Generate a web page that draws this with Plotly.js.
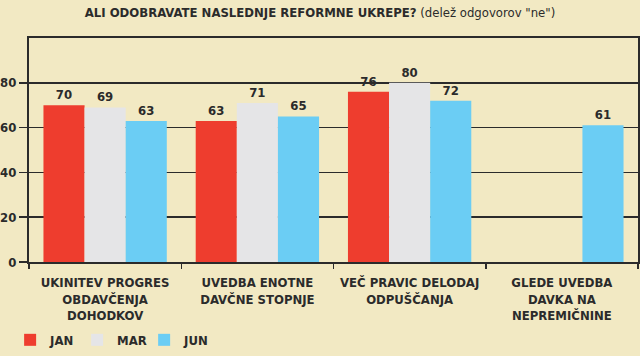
<!DOCTYPE html>
<html>
<head>
<meta charset="utf-8">
<script src="https://cdn.plot.ly/plotly-3.0.1.min.js"></script>
<style>html,body{margin:0;padding:0;background:#F2E9C3;}#chart{width:640px;height:356px;}</style>
</head>
<body>
<div id="chart"></div>
<script>
const categories = [
  "UKINITEV PROGRES<br>OBDAVČENJA<br>DOHODKOV",
  "UVEDBA ENOTNE<br>DAVČNE STOPNJE",
  "VEČ PRAVIC DELODAJ<br>ODPUŠČANJA",
  "GLEDE UVEDBA<br>DAVKA NA<br>NEPREMIČNINE"
];
const seriesNames = ["JAN", "MAR", "JUN"];
const janValues = [70, 63, 76, null];
const marValues = [69, 71, 80, null];
const junValues = [63, 65, 72, 61];
const yTicks = [0, 20, 40, 60, 80];

const colors = ["#EE3D2E", "#E5E5E7", "#6BCDF4"];
const fontFam = "'DejaVu Sans Condensed', 'DejaVu Sans', sans-serif";
const dark = "#2b2b2b";

const allValues = [janValues, marValues, junValues];
const traces = allValues.map((vals, i) => ({
  type: "bar",
  name: seriesNames[i],
  x: categories,
  y: vals,
  marker: {color: colors[i], line: {width: 0}},
  text: vals.map(v => v == null ? "" : String(v)),
  textposition: "outside",
  cliponaxis: false,
  textfont: {family: fontFam, size: 13, color: dark, weight: "bold"},
  hoverinfo: "skip"
}));

const layout = {
  width: 640, height: 356,
  paper_bgcolor: "#F2E9C3",
  plot_bgcolor: "#F2E9C3",
  margin: {l: 29, r: 2, t: 38, b: 93},
  title: {
    text: "<b>ALI ODOBRAVATE NASLEDNJE REFORMNE UKREPE?</b> (delež odgovorov \"ne\")",
    font: {family: fontFam, size: 13, color: dark},
    x: 0.5, xanchor: "center", y: 0.966, yanchor: "middle"
  },
  barmode: "group",
  bargap: 0.19,
  bargroupgap: 0,
  showlegend: true,
  legend: {
    orientation: "h", x: -0.031, xanchor: "left", y: -0.275, yanchor: "top",
    font: {family: fontFam, size: 13, color: dark, weight: "bold"},
    itemwidth: 30, entrywidth: 22, entrywidthmode: "pixels",
    traceorder: "normal", bgcolor: "rgba(0,0,0,0)"
  },
  xaxis: {
    type: "category",
    tickson: "boundaries",
    ticks: "outside", ticklen: 5, tickwidth: 1.5, tickcolor: dark,
    ticklabelstandoff: 7,
    showline: true, linecolor: dark, linewidth: 2, mirror: true,
    tickfont: {family: fontFam, size: 13, color: dark, weight: "bold"},
    showgrid: false, zeroline: false, fixedrange: true
  },
  yaxis: {
    range: [0, 100],
    tickvals: yTicks,
    ticktext: yTicks.map(String),
    ticks: "outside", ticklen: 8, tickwidth: 1.5, tickcolor: dark,
    showgrid: true, gridcolor: dark, gridwidth: 1.5,
    showline: true, linecolor: dark, linewidth: 2, mirror: true,
    zeroline: false,
    tickfont: {family: fontFam, size: 13, color: dark, weight: "bold"},
    fixedrange: true
  }
};

Plotly.newPlot("chart", traces, layout, {displayModeBar: false, staticPlot: true});
</script>
</body>
</html>
